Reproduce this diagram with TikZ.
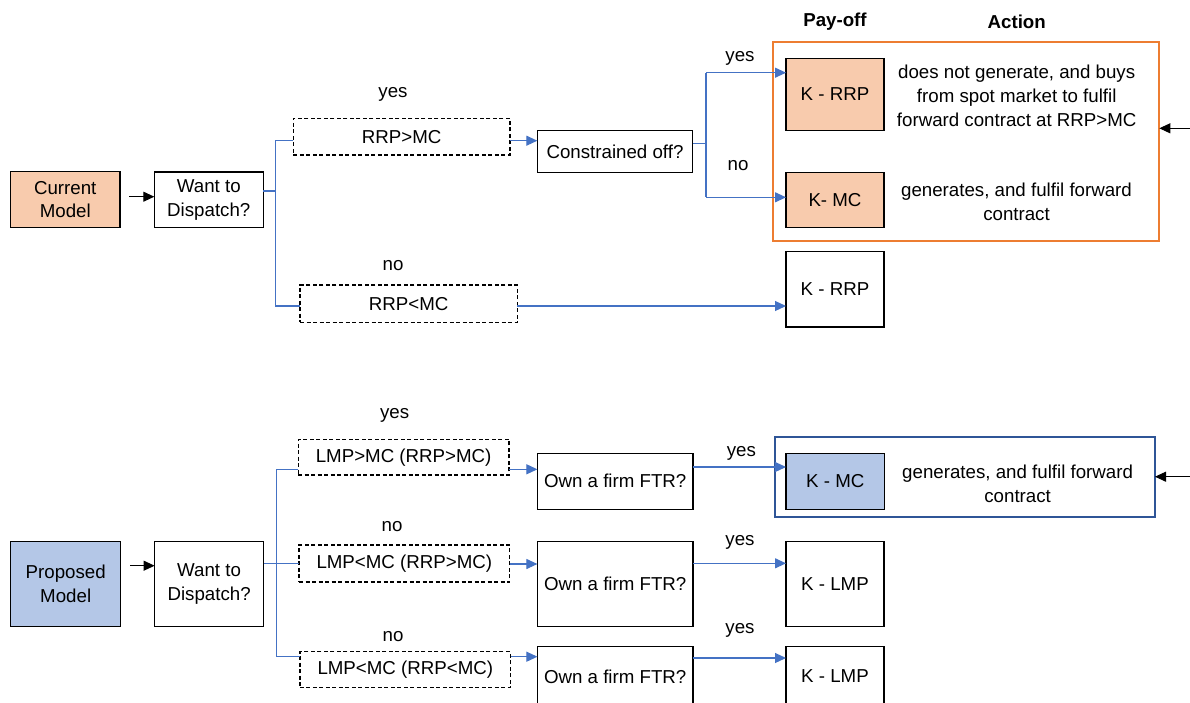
\documentclass[tikz,border=0pt]{standalone}
\usepackage{fontspec}
\setmainfont{Liberation Sans}
\usetikzlibrary{arrows.meta,calc}
\definecolor{peach}{HTML}{F8CBAD}
\definecolor{orangeframe}{HTML}{ED7D31}
\definecolor{paleblue}{HTML}{B4C7E7}
\definecolor{blueframe}{HTML}{2F5597}
\definecolor{linkblue}{HTML}{4472C4}
\begin{document}
\begin{tikzpicture}[x=1pt,y=-1pt,
  every node/.style={font=\fontsize{18.7}{23.7}\selectfont, inner sep=0pt, outer sep=0pt},
  box/.style n args={2}{draw=black, line width=1.1pt, minimum width=#1, minimum height=#2, align=center},
  dbox/.style n args={2}{draw=black, line width=1.4pt, dash pattern=on 4pt off 2.5pt, minimum width=#1, minimum height=#2, align=center},
  frame/.style n args={3}{draw=#1, line width=1.8pt, minimum width=#2, minimum height=#3},
  lbl/.style={anchor=center},
  head/.style={font=\fontsize{18.7}{23.7}\selectfont\bfseries},
  acttext/.style={align=center},
  link/.style={draw=linkblue, line width=1.1pt},
  linkarrow/.style={link, -{Triangle[length=11pt,width=10pt]}},
  blackarrow/.style={draw=black, line width=1pt, -{Triangle[length=11pt,width=10pt]}}
]
\clip (0,0) rectangle (1190,702);
\fill[white] (0,0) rectangle (1190,702);

% ---------- column headings ----------
\node[head] (hpay) at (835,21.5) {Pay-off};
\node[head] (hact) at (1016.7,21.5) {Action};

% ---------- current model ----------
\node[frame={orangeframe}{386pt}{199pt}] (ofr) at (966.3,141.2) {};
\node[box={109.5pt}{56pt}, fill=peach] (cur) at (65.25,199.5) {Current\\Model};
\node[box={109pt}{55.5pt}] (wd1) at (208.8,199.75) {Want to\\Dispatch?};
\node[dbox={216.7pt}{36.7pt}] (rrpgt) at (401.7,136.7) {RRP>MC};
\node[dbox={217.3pt}{37.3pt}] (rrplt) at (408.7,303.7) {RRP<MC};
\node[box={155.4pt}{41.6pt}] (cons) at (615,151.5) {Constrained off?};
\node[box={98pt}{71.7pt}, fill=peach] (krrp1) at (835,94.2) {K - RRP};
\node[box={98pt}{55.4pt}, fill=peach] (kmc1) at (835,200) {K- MC};
\node[box={98pt}{75.3pt}] (krrp2) at (835,289.3) {K - RRP};
\node[acttext] (act1) at (1016.7,96) {does not generate, and buys\\from spot market to fulfil\\forward contract at RRP>MC};
\node[acttext] (act2) at (1016.5,202) {generates, and fulfil forward\\contract};

\node[lbl] (ly1) at (393,94) {yes};
\node[lbl] (ln1) at (393,266) {no};
\node[lbl] (ly2) at (740,58) {yes};
\node[lbl] (ln2) at (738,166) {no};

% junctions of the upper tree
\coordinate (c1) at (129,196.7);
\coordinate (j1) at (275.3,191);
\coordinate (t1a) at (275.3,140.7);
\coordinate (t1b) at (275.3,306);
\coordinate (j2) at (706,143.3);
\coordinate (t2a) at (706,72.7);
\coordinate (t2b) at (706,197.3);
\coordinate (r1) at (1190,128.3);

\draw[blackarrow] (c1) -- (c1 -| wd1.west);
\draw[link] (wd1.east |- j1) -- (j1);
\draw[link] (rrpgt.west |- t1a) -- (t1a) -- (t1b) -- (rrplt.west |- t1b);
\draw[linkarrow] (rrpgt.east |- t1a) -- (cons.west |- t1a);
\draw[linkarrow] (rrplt.east |- t1b) -- (krrp2.west |- t1b);
\draw[link] (cons.east |- j2) -- (j2);
\draw[link] (t2a) -- (t2b);
\draw[linkarrow] (t2a) -- (krrp1.west |- t2a);
\draw[linkarrow] (t2b) -- (kmc1.west |- t2b);
\draw[blackarrow] (r1) -- (r1 -| ofr.east);

% ---------- proposed model ----------
\node[frame={blueframe}{379.7pt}{79.4pt}] (bfr) at (965.15,477) {};
\node[box={110pt}{84.3pt}, fill=paleblue] (prop) at (65.7,583.9) {Proposed\\Model};
\node[box={109pt}{85pt}] (wd2) at (209.1,584.2) {Want to\\Dispatch?};
\node[dbox={210.8pt}{35.7pt}] (lmp1) at (403.6,457.2) {LMP>MC (RRP>MC)};
\node[dbox={210.6pt}{37pt}] (lmp2) at (404.3,563.5) {LMP<MC (RRP>MC)};
\node[dbox={210.7pt}{35.6pt}] (lmp3) at (405.3,669.5) {LMP<MC (RRP<MC)};
\node[box={155.6pt}{55.7pt}] (own1) at (615.2,481.2) {Own a firm FTR?};
\node[box={155.6pt}{84.3pt}] (own2) at (615.2,583.9) {Own a firm FTR?};
\node[box={155.6pt}{59.3pt}] (own3) at (615.2,676.4) {Own a firm FTR?};
\node[box={98.6pt}{55.7pt}, fill=paleblue] (kmc2) at (835.3,481.2) {K - MC};
\node[box={98pt}{84.3pt}] (klmp2) at (835,583.9) {K - LMP};
\node[box={98pt}{59.3pt}] (klmp3) at (835,676.4) {K - LMP};
\node[acttext] (act3) at (1017.6,484) {generates, and fulfil forward\\contract};

\node[lbl] (ly3) at (394.6,415) {yes};
\node[lbl] (ln3) at (392,526.5) {no};
\node[lbl] (ln4) at (393,636.5) {no};
\node[lbl] (ly4) at (741.4,453.5) {yes};
\node[lbl] (ly5) at (740,542) {yes};
\node[lbl] (ly6) at (740,630) {yes};

% junctions of the lower tree
\coordinate (c2) at (130,565.7);
\coordinate (j3) at (276.8,563.7);
\coordinate (t3a) at (276.8,469.3);
\coordinate (t3b) at (276.8,656.7);
\coordinate (r2) at (1190,476.7);

\draw[blackarrow] (c2) -- (c2 -| wd2.west);
\draw[link] (wd2.east |- j3) -- (lmp2.west |- j3);
\draw[link] (lmp1.west |- t3a) -- (t3a) -- (t3b) -- (lmp3.west |- t3b);
\draw[linkarrow] (lmp1.east |- t3a) -- (own1.west |- t3a);
\draw[linkarrow] (lmp2.east |- 0,564) -- (own2.west |- 0,564);
\draw[linkarrow] (lmp3.east |- t3b) -- (own3.west |- t3b);
\draw[linkarrow] (own1.east |- 0,467) -- (kmc2.west |- 0,467);
\draw[linkarrow] (own2.east |- 0,563.3) -- (klmp2.west |- 0,563.3);
\draw[linkarrow] (own3.east |- 0,658) -- (klmp3.west |- 0,658);
\draw[blackarrow] (r2) -- (r2 -| bfr.east);
\end{tikzpicture}
\end{document}
